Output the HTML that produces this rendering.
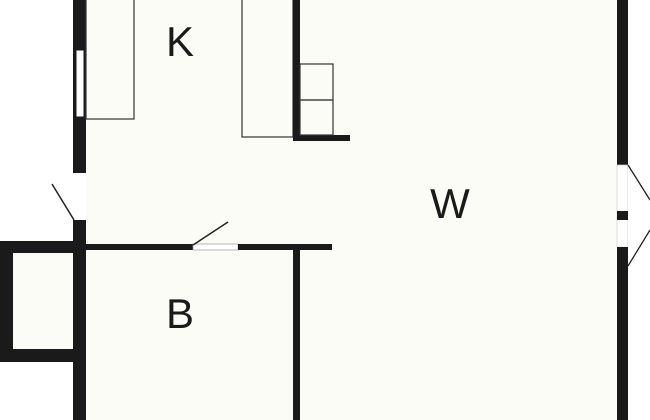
<!DOCTYPE html>
<html><head><style>html,body{margin:0;padding:0;background:#fff}svg{display:block}</style></head>
<body>
<svg width="650" height="420" xmlns="http://www.w3.org/2000/svg">
<rect x="0" y="0" width="650" height="420" fill="#ffffff"/>
<rect x="86" y="0" width="534" height="420" fill="#fcfcf7"/>
<rect x="13" y="253" width="60" height="96" fill="#fcfcf7"/>
<!-- left wall -->
<rect x="73" y="0" width="13" height="173" fill="#1a1a1a"/>
<rect x="76" y="50" width="8" height="67" fill="#fff" stroke="#1a1a1a" stroke-width="1"/>
<rect x="73" y="220" width="13" height="200" fill="#1a1a1a"/>
<line x1="52" y1="184" x2="74" y2="220" stroke="#222" stroke-width="1.5"/>
<!-- left box -->
<rect x="0" y="241" width="86" height="12" fill="#1a1a1a"/>
<rect x="0" y="241" width="13" height="121" fill="#1a1a1a"/>
<rect x="0" y="349" width="86" height="13" fill="#1a1a1a"/>
<!-- B top wall -->
<rect x="86" y="244" width="107" height="6" fill="#1a1a1a"/>
<rect x="193" y="244" width="45" height="6" fill="#fff" stroke="#999" stroke-width="0.7"/>
<rect x="238" y="244" width="94" height="6" fill="#1a1a1a"/>
<line x1="193" y1="245" x2="228" y2="222" stroke="#222" stroke-width="1.5"/>
<rect x="293" y="244" width="7" height="176" fill="#1a1a1a"/>
<!-- kitchen -->
<rect x="86" y="-2" width="48" height="121" fill="none" stroke="#333" stroke-width="1.2"/>
<rect x="242" y="-2" width="51" height="139" fill="none" stroke="#333" stroke-width="1.2"/>
<rect x="293" y="0" width="7" height="141" fill="#1a1a1a"/>
<rect x="293" y="135" width="57" height="6" fill="#1a1a1a"/>
<rect x="300" y="64" width="33" height="36" fill="none" stroke="#333" stroke-width="1.2"/>
<rect x="300" y="100" width="33" height="35" fill="none" stroke="#333" stroke-width="1.2"/>
<!-- right wall -->
<rect x="617" y="0" width="11" height="165" fill="#1a1a1a"/>
<rect x="617" y="165" width="11" height="82" fill="#fff" stroke="#ccc" stroke-width="0.7"/>
<rect x="617" y="211" width="11" height="9" fill="#1a1a1a"/>
<rect x="617" y="247" width="11" height="173" fill="#1a1a1a"/>
<rect x="628" y="0" width="22" height="420" fill="#fff"/>
<line x1="628" y1="165" x2="650" y2="200" stroke="#222" stroke-width="1.3"/>
<line x1="650" y1="230" x2="628" y2="266" stroke="#222" stroke-width="1.3"/>
<g font-family="Liberation Sans, sans-serif" font-size="42" fill="#1a1a1a" text-anchor="middle">
<text x="180" y="56">K</text>
<text x="450" y="218">W</text>
<text x="180" y="328">B</text>
</g>
</svg>
</body></html>
